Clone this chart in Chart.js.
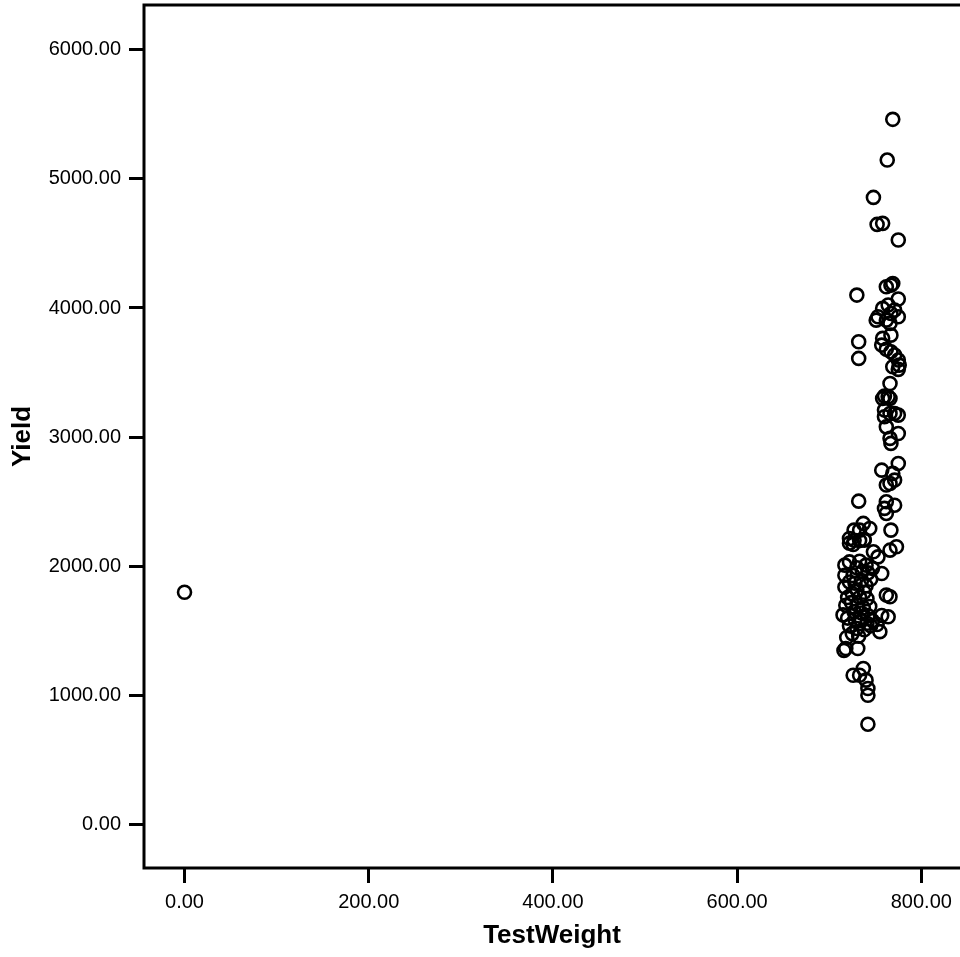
<!DOCTYPE html>
<html>
<head>
<meta charset="utf-8">
<script src="https://cdn.jsdelivr.net/npm/chart.js@4/dist/chart.umd.min.js"></script>
<style>
  html, body { margin: 0; padding: 0; background: #fff; }
  #wrap { width: 960px; height: 957px; position: relative; }
</style>
</head>
<body>
<div id="wrap"><canvas id="scatter"></canvas></div>
<script>
// TestWeight (x) and Yield (y)
const testWeight = [
  0,
  769, 763, 748, 752, 758, 775, 730, 762, 767, 769, 775,
  753, 758, 764, 771, 775, 751, 762, 767, 766,
  767, 758, 732, 732,
  757, 762, 767, 771, 775, 776, 775, 769, 766, 760, 764,
  758, 766, 760, 766, 771, 775, 760, 762, 775, 766, 767,
  775, 757, 769, 771, 766, 762,
  732, 762, 771, 760, 762,
  767, 737, 733, 744, 727, 722, 727, 738, 773, 766, 748, 753,
  722, 726, 733, 738, 717, 722, 733, 740, 747, 757, 726, 717, 730, 736, 742,
  717, 722, 728, 735, 740, 745, 730, 738, 725, 733, 741, 720,
  718, 724, 731, 737, 744, 727, 735, 742, 715, 720, 728, 735, 741, 747, 752,
  722, 730, 738, 745, 725, 732, 719, 757, 764, 755, 762, 766,
  718, 731, 716, 737, 726, 733, 740, 742, 742, 742
];
const yieldValues = [
  1800,
  5460, 5145, 4856, 4647, 4655, 4526, 4100, 4164, 4177, 4190, 4070,
  3932, 3997, 4023, 3984, 3932, 3906, 3906, 3958, 3881,
  3790, 3765, 3739, 3610,
  3713, 3680, 3661, 3636, 3597, 3558, 3525, 3545, 3416, 3318, 3313,
  3300, 3300, 3210, 3184, 3184, 3171, 3158, 3080, 3029, 2991, 2952,
  2797, 2745, 2720, 2668, 2642, 2630,
  2505, 2500, 2474, 2449, 2410,
  2281, 2333, 2281, 2294, 2281, 2216, 2203, 2203, 2152, 2126, 2113, 2074,
  2180, 2170, 2200, 2210, 2010, 2035, 2040, 2010, 1985, 1945, 1930, 1932, 1990, 1960, 1950,
  1840, 1880, 1870, 1890, 1850, 1900, 1820, 1800, 1790, 1760, 1750, 1760,
  1700, 1720, 1700, 1680, 1690, 1650, 1640, 1620, 1625, 1600, 1590, 1580, 1560, 1580, 1550,
  1540, 1520, 1510, 1540, 1480, 1460, 1450, 1620, 1610, 1495, 1778, 1765,
  1365, 1365, 1350, 1210, 1158, 1158, 1120, 1055, 1003, 779
];

const xTicks = [0, 200, 400, 600, 800];
const yTicks = [0, 1000, 2000, 3000, 4000, 5000, 6000];

const points = testWeight.map((x, i) => ({ x, y: yieldValues[i] }));

const tickFont = { family: "'Liberation Sans', Arial, sans-serif", size: 20 };
const titleFont = { family: "'Liberation Sans', Arial, sans-serif", size: 26, weight: "bold" };

// frame round the plot area (right side falls off the canvas)
const framePlugin = {
  id: "frame",
  afterDraw(chart) {
    const { ctx, chartArea } = chart;
    ctx.save();
    ctx.strokeStyle = "#000";
    ctx.lineWidth = 3;
    ctx.beginPath();
    ctx.moveTo(chartArea.right + 10, chartArea.top);
    ctx.lineTo(chartArea.left, chartArea.top);
    ctx.lineTo(chartArea.left, chartArea.bottom);
    ctx.lineTo(chartArea.right + 10, chartArea.bottom);
    ctx.stroke();
    ctx.restore();
  },
};

// keep the plot area fixed: no extra room for overhanging tick labels
function noPadding(s) {
  s.paddingTop = 0;
  s.paddingBottom = 0;
  s.paddingLeft = 0;
  s.paddingRight = 0;
}

new Chart(document.getElementById("scatter"), {
  type: "scatter",
  data: {
    datasets: [
      {
        label: "Yield",
        data: points,
        pointStyle: "circle",
        pointRadius: 6.5,
        pointBorderWidth: 2.6,
        borderColor: "#000",
        backgroundColor: "rgba(0,0,0,0)",
      },
    ],
  },
  options: {
    responsive: true,
    maintainAspectRatio: false,
    animation: false,
    layout: { autoPadding: false, padding: { top: 5, right: 0, left: 0, bottom: 0 } },
    scales: {
      x: {
        type: "linear",
        min: -44,
        max: 842,
        afterBuildTicks: (s) => { s.ticks = xTicks.map((v) => ({ value: v })); },
        afterFit: (s) => { s.height = 89; noPadding(s); },
        border: { display: false },
        grid: { drawOnChartArea: false, tickLength: 15, tickColor: "#000", tickWidth: 3 },
        ticks: { color: "#000", font: tickFont, padding: 7, maxRotation: 0, callback: (v) => v.toFixed(2) },
        title: { display: true, text: "TestWeight", color: "#000", font: titleFont, padding: { top: 0, bottom: 6 } },
      },
      y: {
        type: "linear",
        min: -334,
        max: 6345,
        afterBuildTicks: (s) => { s.ticks = yTicks.map((v) => ({ value: v })); },
        afterFit: (s) => { s.width = 144; noPadding(s); },
        border: { display: false },
        grid: { drawOnChartArea: false, tickLength: 15, tickColor: "#000", tickWidth: 3 },
        ticks: { color: "#000", font: tickFont, padding: 8, callback: (v) => v.toFixed(2) },
        title: { display: true, text: "Yield", color: "#000", font: titleFont, padding: { top: 7, bottom: 0 } },
      },
    },
    plugins: {
      legend: { display: false },
      tooltip: { enabled: false },
    },
  },
  plugins: [framePlugin],
});
</script>
</body>
</html>
